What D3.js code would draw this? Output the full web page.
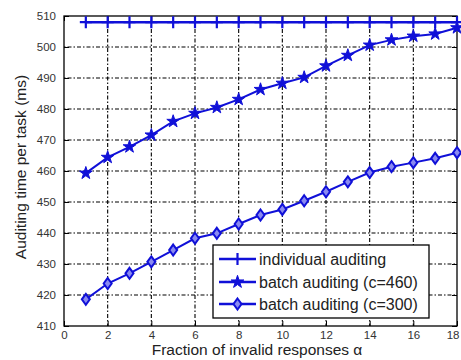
<!DOCTYPE html>
<html><head><meta charset="utf-8">
<script src="https://cdn.jsdelivr.net/npm/d3@7"></script>
<style>body{margin:0;background:#fff}svg{display:block}text{font-family:Arial,"Liberation Sans",sans-serif}</style>
</head><body>
<svg id="c" width="461" height="360"></svg>
<script>
const alphas = [1,2,3,4,5,6,7,8,9,10,11,12,13,14,15,16,17,18];
const individual = [508,508,508,508,508,508,508,508,508,508,508,508,508,508,508,508,508,508];
const batch460 = [459.3,464.4,467.8,471.6,476.0,478.6,480.5,483.1,486.3,488.3,490.2,493.9,497.3,500.6,502.3,503.5,504.2,506.2];
const batch300 = [418.6,423.7,427.0,430.7,434.5,438.3,439.9,442.9,445.8,447.6,450.4,453.3,456.5,459.5,461.4,462.7,464.1,465.9];
const xTicks = [0,2,4,6,8,10,12,14,16,18];
const yTicks = [410,420,430,440,450,460,470,480,490,500,510];
const seriesNames = ["individual auditing","batch auditing (c=460)","batch auditing (c=300)"];

const svg = d3.select("#c");
const L=64, R=457, T=16, B=326;
const x = d3.scaleLinear().domain([0,18]).range([L,R]);
const y = d3.scaleLinear().domain([410,510]).range([B,T]);
const blue = "#1010d8";

// grid
const g = svg.append("g");
g.selectAll(".gx").data(xTicks.filter(d=>d>0&&d<18)).enter().append("line")
 .attr("x1",d=>x(d)).attr("x2",d=>x(d)).attr("y1",T).attr("y2",B)
 .attr("stroke","#000").attr("stroke-width",1.1).attr("stroke-dasharray","1.5,2,4,2");
g.selectAll(".gy").data(yTicks.filter(d=>d>410&&d<510)).enter().append("line")
 .attr("y1",d=>y(d)).attr("y2",d=>y(d)).attr("x1",L).attr("x2",R)
 .attr("stroke","#000").attr("stroke-width",1.1).attr("stroke-dasharray","1.5,2,4,2");

// axes
const ax = svg.append("g").attr("transform",`translate(0,${B})`)
 .call(d3.axisBottom(x).tickValues(xTicks).tickSizeInner(-5).tickSizeOuter(0).tickPadding(6));
const ay = svg.append("g").attr("transform",`translate(${L},0)`)
 .call(d3.axisLeft(y).tickValues(yTicks).tickSizeInner(-5).tickSizeOuter(0).tickPadding(8));
svg.append("g").attr("transform",`translate(0,${T})`)
 .call(d3.axisTop(x).tickValues(xTicks).tickSizeInner(-5).tickSizeOuter(0).tickFormat(""));
svg.append("g").attr("transform",`translate(${R},0)`)
 .call(d3.axisRight(y).tickValues(yTicks).tickSizeInner(-5).tickSizeOuter(0).tickFormat(""));
svg.selectAll(".domain").remove();
svg.selectAll(".tick line").attr("stroke","#000");
[ax,ay].forEach(a=>a.selectAll("text").attr("font-size",11.5).attr("fill","#333"));
ax.selectAll("text").attr("dy","0.6em");
ax.selectAll(".tick").filter(d=>d===18).select("text").attr("text-anchor","end").attr("dx",2);
svg.append("rect").attr("x",L).attr("y",T).attr("width",R-L).attr("height",B-T)
 .attr("fill","none").attr("stroke","#000").attr("stroke-width",1.3);

// series
const line = d3.line().x((d,i)=>x(alphas[i])).y(d=>y(d));
function marker(sel, type, cx, cy){
  if(type==="plus"){
    sel.append("path").attr("d",`M${cx-6},${cy}H${cx+6}M${cx},${cy-6}V${cy+6}`)
      .attr("stroke",blue).attr("stroke-width",2.2).attr("fill","none");
  } else if(type==="star"){
    sel.append("path").attr("transform",`translate(${cx},${cy})`)
      .attr("d",d3.symbol().type(d3.symbolStar).size(50)())
      .attr("fill",blue).attr("stroke",blue).attr("stroke-width",1);
  } else {
    sel.append("path").attr("d",`M${cx},${cy-5.5}L${cx+4},${cy}L${cx},${cy+5.5}L${cx-4},${cy}Z`)
      .attr("fill","#8a8af0").attr("stroke",blue).attr("stroke-width",2);
  }
}
const data = [[individual,"plus",2.6],[batch460,"star",2],[batch300,"dia",2]];
data.forEach(([vals,type,w])=>{
  svg.append("path").datum(vals).attr("d",line).attr("fill","none")
   .attr("stroke",blue).attr("stroke-width",w);
  const mg = svg.append("g");
  vals.forEach((v,i)=>marker(mg,type,x(alphas[i]),y(v)));
});

// legend
const lg = svg.append("g");
lg.append("rect").attr("x",213).attr("y",245).attr("width",216).attr("height",73)
 .attr("fill","#fff").attr("stroke","#000").attr("stroke-width",1.3);
const rows=[259,282,304];
seriesNames.forEach((n,i)=>{
  lg.append("line").attr("x1",219).attr("x2",256).attr("y1",rows[i]).attr("y2",rows[i])
    .attr("stroke",blue).attr("stroke-width",2.4);
  marker(lg,data[i][1],237.5,rows[i]);
  lg.append("text").attr("x",259).attr("y",rows[i]+5.5).attr("font-size",16)
    .attr("fill","#222").text(n);
});

// labels
svg.append("text").attr("x",257).attr("y",355).attr("text-anchor","middle")
 .attr("font-size",15.5).attr("fill","#222").text("Fraction of invalid responses α");
svg.append("text").attr("transform",`translate(26,${167}) rotate(-90)`)
 .attr("text-anchor","middle").attr("font-size",15.5).attr("fill","#222")
 .text("Auditing time per task (ms)");
</script>
</body></html>
